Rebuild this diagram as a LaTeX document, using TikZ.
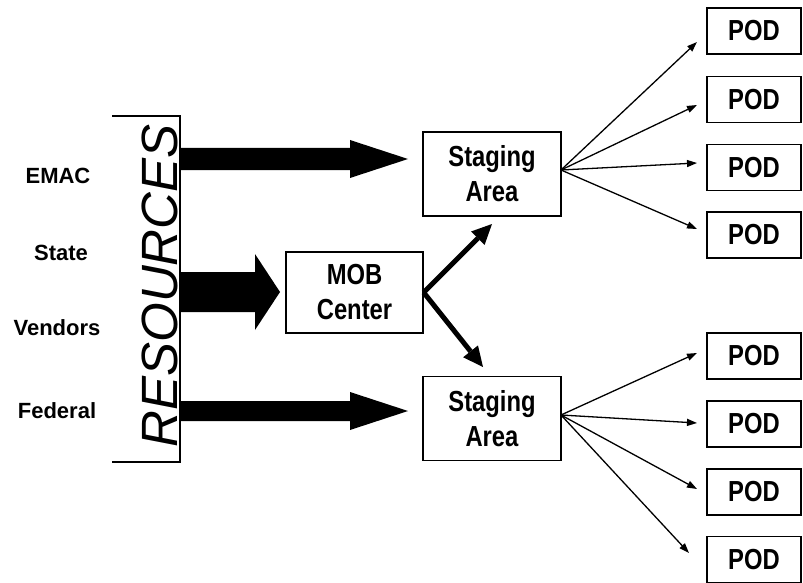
\documentclass[tikz,border=0pt]{standalone}
\usepackage{fontspec}
\setmainfont{Liberation Sans}
\newfontfamily\narrowbold[FakeStretch=0.82]{Liberation Sans Bold}
\newfontfamily\slanted{Liberation Sans Italic}
\usetikzlibrary{arrows.meta,calc}
\begin{document}
\begin{tikzpicture}[x=1pt,y=-1pt,
  box/.style={draw,line width=1.4pt,inner sep=0pt,align=center,
    font=\narrowbold\fontsize{29}{35}\selectfont},
  podbox/.style={box,minimum width=94pt,minimum height=46pt},
  stagebox/.style={box,minimum width=138pt,minimum height=84pt},
  srclabel/.style={font=\bfseries\fontsize{22}{26}\selectfont},
  fan/.style={line width=1.3pt,-{Triangle[length=10pt,width=7pt]}},
  boldarrow/.style={line width=5pt,-{Triangle[length=20pt,width=19pt,line width=0pt]}}]

\useasboundingbox (0,0) rectangle (803,583);

% source labels
\node[srclabel] (emac) at (58,176) {EMAC};
\node[srclabel] (state) at (61,253) {State};
\node[srclabel] (vendors) at (57,328) {Vendors};
\node[srclabel] (federal) at (57,411) {Federal};

% resources bracket and its vertical title
\draw[line width=2.6pt] (112,116) -- (180,116) -- (180,462) -- (112,462);
\node[rotate=90,anchor=base,inner sep=0pt,font=\slanted\fontsize{51}{60}\selectfont]
  (res) at (177,286) {RESOURCES};

% boxes
\node[box,minimum width=137pt,minimum height=81pt] (mob) at (354.5,292.5) {MOB\\Center};
\node[stagebox] (st1) at (492,174) {Staging\\Area};
\node[stagebox] (st2) at (492,418.5) {Staging\\Area};

\foreach \n/\y in {1/31,2/99.5,3/167.5,4/235,5/356,6/424,7/492,8/559.5}
  \node[podbox] (p\n) at (754,\y) {POD};

% wide flow arrows leaving the bracket
\coordinate (a1s) at (180,159);  \coordinate (a1t) at (408,159);
\coordinate (a2s) at (180,292);  \coordinate (a2t) at (280,292);
\coordinate (a3s) at (180,411);  \coordinate (a3t) at (408,411);
\fill (a1s) ++(0,-11) -- ++(170,0) -- ++(0,-8) -- (a1t) -- ++(-58,19) -- ++(0,-8) -- ++(-170,0) -- cycle;
\fill (a2s) ++(0,-20) -- ++(75,0) -- ++(0,-18) -- (a2t) -- ++(-25,38) -- ++(0,-18) -- ++(-75,0) -- cycle;
\fill (a3s) ++(0,-10) -- ++(170,0) -- ++(0,-9) -- (a3t) -- ++(-58,19) -- ++(0,-9) -- ++(-170,0) -- cycle;

% MOB centre dispatch to the staging areas
\coordinate (m1) at (492,224);
\coordinate (m2) at (483,367);
\draw[boldarrow] (mob.east) -- (m1);
\draw[boldarrow] (mob.east) -- (m2);

% distribution from staging areas to the PODs
\coordinate (f1) at (561,170);
\coordinate (f2) at (561,415);
\coordinate (t1) at (697,42);
\coordinate (t2) at (697,105);
\coordinate (t3) at (697,163);
\coordinate (t4) at (697,229);
\coordinate (t5) at (697,353);
\coordinate (t6) at (697,423);
\coordinate (t7) at (697,489);
\coordinate (t8) at (689,553);
\foreach \i in {1,2,3,4} \draw[fan] (f1) -- (t\i);
\foreach \i in {5,6,7,8} \draw[fan] (f2) -- (t\i);

\end{tikzpicture}
\end{document}
